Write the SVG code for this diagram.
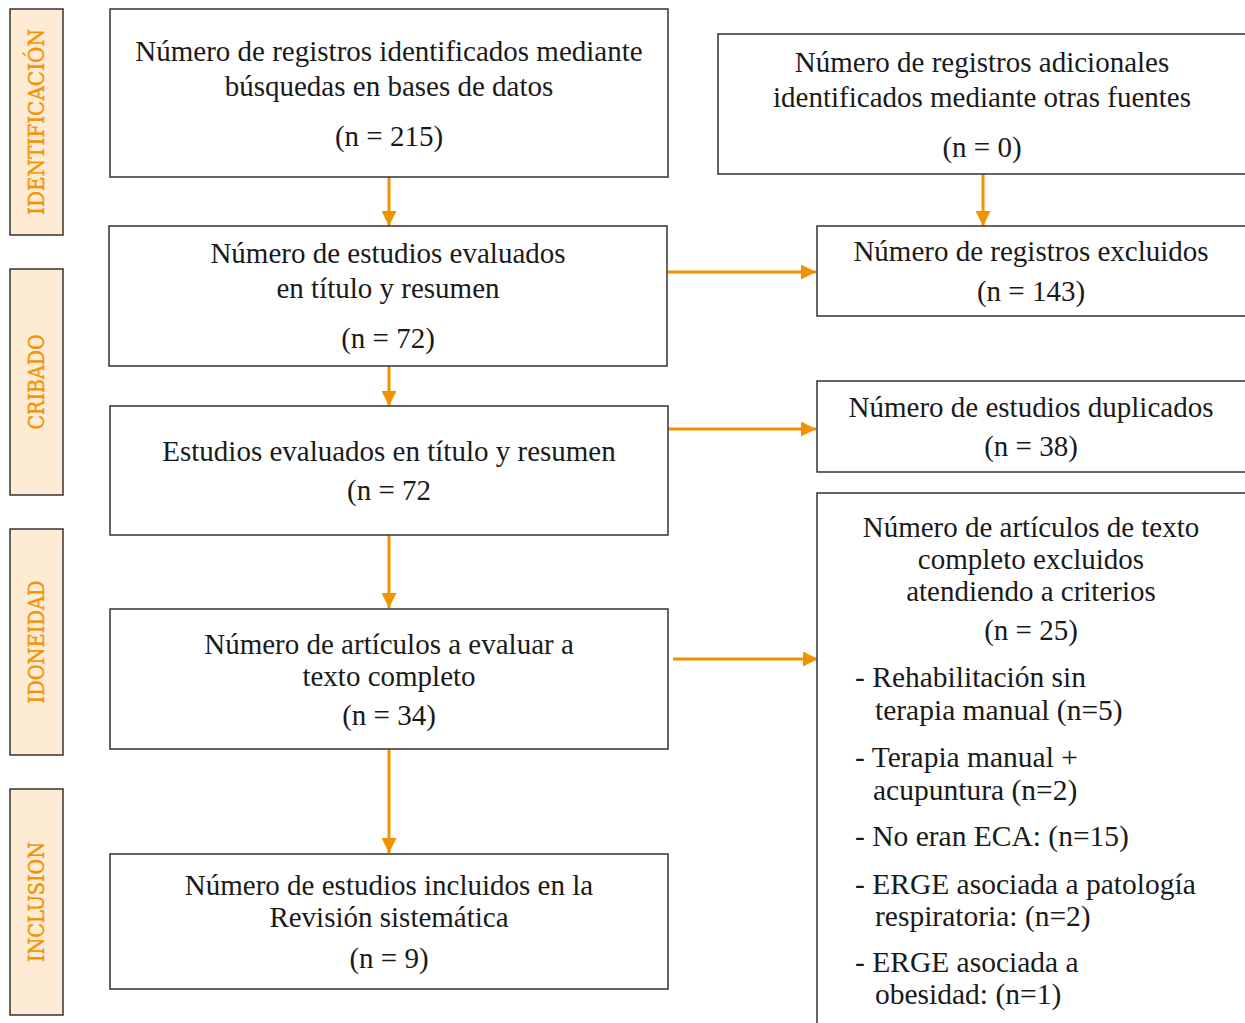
<svg xmlns="http://www.w3.org/2000/svg" width="1245" height="1023" viewBox="0 0 1245 1023">
<defs>
<style>
.box{fill:#fff;stroke:#333;stroke-width:1.5}
.lab{fill:#FDEBD4;stroke:#333;stroke-width:1.5}
.lt{font-family:"DejaVu Serif","Liberation Serif",serif;font-size:22px;fill:#F39200;stroke:#F39200;stroke-width:0.4;text-anchor:middle}
.t{font-family:"Liberation Serif","Times New Roman",serif;font-size:29px;fill:#1a1a1a;text-anchor:middle}
.tl{font-family:"Liberation Serif","Times New Roman",serif;font-size:29.5px;fill:#1a1a1a}
.c{stroke:#F39200;stroke-width:3;fill:none;marker-end:url(#ah)}
</style>
<marker id="ah" viewBox="0 0 10 10" refX="10" refY="5" markerWidth="5" markerHeight="5" markerUnits="strokeWidth" orient="auto">
<path d="M0,0 L10,5 L0,10 z" fill="#F39200"/>
</marker>
</defs>
<rect width="1245" height="1023" fill="#fff"/>

<g id="label-identificacion"><rect class="lab" x="10" y="9" width="53" height="226"/><text class="lt" transform="translate(44,122) rotate(-90)" textLength="186" lengthAdjust="spacingAndGlyphs">IDENTIFICACIÓN</text></g>
<g id="label-cribado"><rect class="lab" x="10" y="269" width="53" height="226"/><text class="lt" transform="translate(44,382) rotate(-90)" textLength="95" lengthAdjust="spacingAndGlyphs">CRIBADO</text></g>
<g id="label-idoneidad"><rect class="lab" x="10" y="529" width="53" height="226"/><text class="lt" transform="translate(44,642) rotate(-90)" textLength="123" lengthAdjust="spacingAndGlyphs">IDONEIDAD</text></g>
<g id="label-inclusion"><rect class="lab" x="10" y="789" width="53" height="226"/><text class="lt" transform="translate(44,902) rotate(-90)" textLength="120" lengthAdjust="spacingAndGlyphs">INCLUSION</text></g>

<g id="connectors">
<line class="c" x1="389" y1="177" x2="389" y2="226"/>
<line class="c" x1="983" y1="174" x2="983" y2="226"/>
<line class="c" x1="668" y1="272" x2="816" y2="272"/>
<line class="c" x1="389" y1="366" x2="389" y2="406"/>
<line class="c" x1="668" y1="429" x2="816" y2="429"/>
<line class="c" x1="389" y1="535" x2="389" y2="608"/>
<line class="c" x1="673" y1="659" x2="818" y2="659"/>
<line class="c" x1="389" y1="749" x2="389" y2="853"/>
</g>

<g id="n1"><rect class="box" x="110" y="9" width="558" height="168"/>
<text class="t" x="389" y="61">Número de registros identificados mediante</text>
<text class="t" x="389" y="96">búsquedas en bases de datos</text>
<text class="t" x="389" y="146">(n = 215)</text></g>

<g id="n2"><rect class="box" x="718" y="34" width="540" height="140"/>
<text class="t" x="982" y="72">Número de registros adicionales</text>
<text class="t" x="982" y="107">identificados mediante otras fuentes</text>
<text class="t" x="982" y="157">(n = 0)</text></g>

<g id="n3"><rect class="box" x="109" y="226" width="558" height="140"/>
<text class="t" x="388" y="263">Número de estudios evaluados</text>
<text class="t" x="388" y="298">en título y resumen</text>
<text class="t" x="388" y="348">(n = 72)</text></g>

<g id="n4"><rect class="box" x="817" y="226" width="440" height="90"/>
<text class="t" x="1031" y="261">Número de registros excluidos</text>
<text class="t" x="1031" y="301">(n = 143)</text></g>

<g id="n5"><rect class="box" x="110" y="406" width="558" height="129"/>
<text class="t" x="389" y="461">Estudios evaluados en título y resumen</text>
<text class="t" x="389" y="500">(n = 72</text></g>

<g id="n6"><rect class="box" x="817" y="381" width="440" height="91"/>
<text class="t" x="1031" y="417">Número de estudios duplicados</text>
<text class="t" x="1031" y="456">(n = 38)</text></g>

<g id="n7"><rect class="box" x="110" y="609" width="558" height="140"/>
<text class="t" x="389" y="654">Número de artículos a evaluar a</text>
<text class="t" x="389" y="686">texto completo</text>
<text class="t" x="389" y="725">(n = 34)</text></g>

<g id="n8"><rect class="box" x="817" y="493" width="440" height="540"/>
<text class="t" x="1031" y="537">Número de artículos de texto</text>
<text class="t" x="1031" y="569">completo excluidos</text>
<text class="t" x="1031" y="601">atendiendo a criterios</text>
<text class="t" x="1031" y="640">(n = 25)</text>
<text class="tl" x="855" y="687">- Rehabilitación sin</text>
<text class="tl" x="875" y="720">terapia manual (n=5)</text>
<text class="tl" x="855" y="767">- Terapia manual +</text>
<text class="tl" x="873" y="800">acupuntura (n=2)</text>
<text class="tl" x="855" y="846">- No eran ECA: (n=15)</text>
<text class="tl" x="855" y="894">- ERGE asociada a patología</text>
<text class="tl" x="875" y="926">respiratoria: (n=2)</text>
<text class="tl" x="855" y="972">- ERGE asociada a</text>
<text class="tl" x="875" y="1004">obesidad: (n=1)</text></g>

<g id="n9"><rect class="box" x="110" y="854" width="558" height="135"/>
<text class="t" x="389" y="895">Número de estudios incluidos en la</text>
<text class="t" x="389" y="927">Revisión sistemática</text>
<text class="t" x="389" y="968">(n = 9)</text></g>
</svg>
